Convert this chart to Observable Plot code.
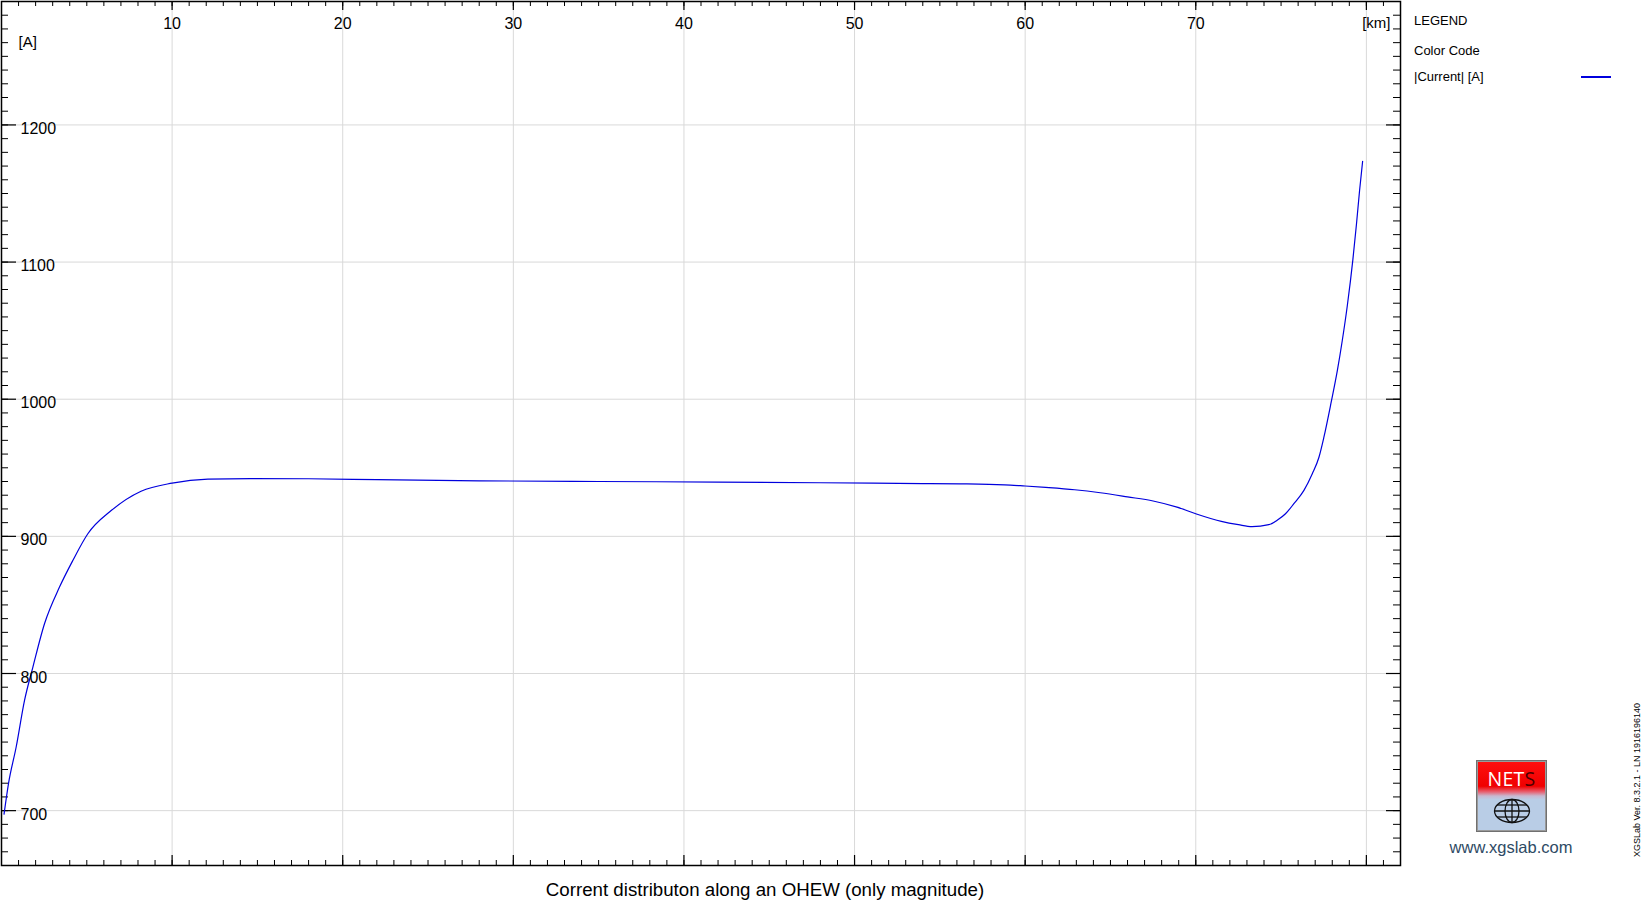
<!DOCTYPE html>
<html>
<head>
<meta charset="utf-8">
<script src="https://cdn.jsdelivr.net/npm/d3@7"></script>
<script src="https://cdn.jsdelivr.net/npm/@observablehq/plot@0.6"></script>
<style>
  html, body { margin: 0; padding: 0; background: #fff; }
  body { width: 1651px; height: 916px; position: relative; overflow: hidden; font-family: "Liberation Sans", Arial, sans-serif; color: #000; }
  #chart { position: absolute; left: 0; top: 0; }
  .abs { position: absolute; white-space: nowrap; }
</style>
</head>
<body>
<div id="chart"></div>
<div class="abs" id="title" style="left:0; width:1530px; top:879px; text-align:center; font-size:18.7px; line-height:22px;"></div>
<div class="abs" id="leg-head" style="left:1414px; top:13px; font-size:13px; line-height:16px;"></div>
<div class="abs" id="leg-sub" style="left:1414px; top:43px; font-size:13px; line-height:16px;"></div>
<div class="abs" id="leg-item" style="left:1414px; top:69px; font-size:13px; line-height:16px;"></div>
<div class="abs" id="leg-swatch" style="left:1581px; top:76px; width:30px; height:2px;"></div>

<div class="abs" id="logo" style="left:1476px; top:760px; width:69px; height:70px; border:1px solid #707070; box-shadow: inset 0 0 0 1px #9a9a9a; background: linear-gradient(to bottom, #ff1010 0%, #f00000 36%, #e86070 44%, #c8b8d0 50%, #b9cde6 55%, #b9cde6 100%);">
  <div style="position:absolute; left:0; width:69px; top:5px; text-align:center; font-family:'Open Sans','Liberation Sans',sans-serif; font-size:19.5px; line-height:26px; color:#fff; letter-spacing:0.3px;">NET<span style="color:#4a0000">S</span></div>
  <svg style="position:absolute; left:0; top:34px;" width="69" height="36">
    <g fill="none" stroke="#111" stroke-width="1.3">
      <ellipse cx="35" cy="16" rx="17.5" ry="11.5"/>
      <ellipse cx="35" cy="16" rx="7" ry="11.5"/>
      <line x1="35" y1="4.5" x2="35" y2="27.5"/>
      <line x1="17.5" y1="16" x2="52.5" y2="16"/>
      <line x1="20" y1="10" x2="50" y2="10"/>
      <line x1="20" y1="22" x2="50" y2="22"/>
    </g>
  </svg>
</div>
<div class="abs" id="site" style="left:1411px; width:200px; top:836px; text-align:center; font-size:16.5px; line-height:22px; color:#2e4a64;"></div>
<svg class="abs" style="left:1628px; top:690px;" width="20" height="180">
  <text id="ver" transform="translate(10,90) rotate(-90)" text-anchor="middle" dominant-baseline="middle" font-family="Liberation Sans, Arial, sans-serif" font-size="9"></text>
</svg>

<script>
// ---- data ----
const distKm = [0.15, 0.41, 0.86, 1.35, 1.84, 2.52, 3.40, 4.18, 5.06, 6.43, 8.18, 10.0, 12.1, 14.6, 18, 22, 28, 35, 42, 48, 54, 56.2, 58.8, 60.0, 61.2, 62.9, 64.4, 66.0, 67.5, 68.9, 70.0, 71.5, 72.5, 73.3, 74.28, 74.81, 75.26, 75.75, 76.34, 76.83, 77.22, 77.51, 77.94, 78.30, 78.59, 78.88, 79.21, 79.42, 79.60, 79.78];
const currentA = [697.5, 719.7, 746.4, 780.4, 804.7, 836.3, 863.0, 882.4, 901.9, 918.8, 932.9, 938.8, 941.7, 942.1, 942.0, 941.3, 940.5, 940.0, 939.6, 939.1, 938.5, 938.3, 937.6, 936.7, 935.7, 934.0, 931.8, 928.8, 925.8, 921.3, 916.5, 910.9, 908.5, 907.1, 908.5, 912.1, 916.5, 923.8, 933.5, 945.6, 957.7, 972.3, 998.0, 1021.0, 1043.0, 1068.0, 1102.0, 1127.8, 1152.0, 1173.5];

const xTickValues = [10, 20, 30, 40, 50, 60, 70];
const xTickLabels = ["10", "20", "30", "40", "50", "60", "70"];
const yTickValues = [700, 800, 900, 1000, 1100, 1200];
const yTickLabels = ["700", "800", "900", "1000", "1100", "1200"];
const xGrid = [10, 20, 30, 40, 50, 60, 70, 80];
const yGrid = [700, 800, 900, 1000, 1100, 1200];
const xUnitLabel = "[km]";
const xUnitAt = 80;
const yUnitLabel = "[A]";
const xDomain = [0, 82];
const yDomain = [660, 1290];

const titleText = "Corrent distributon along an OHEW (only magnitude)";
const legendHead = "LEGEND";
const legendSub = "Color Code";
const seriesName = "|Current| [A]";
const seriesColor = "#0000dd";
const siteText = "www.xgslab.com";
const versionText = "XGSLab Ver. 8.3.2.1 - LN 1916196140";

// ---- build ----
const data = distKm.map((km, i) => ({km, amp: currentA[i]}));
const xMinor = d3.range(1, 82);          // 1 km minor ticks
const yMinor = d3.range(670, 1290, 10);  // 10 A minor ticks

const W = 1402, H = 867;
const mL = 1, mT = 1, mR = 2, mB = 2;
const pw = W - mL - mR, ph = H - mT - mB;

const fontFam = "Liberation Sans, Arial, sans-serif";

const chart = Plot.plot({
  width: W,
  height: H,
  marginLeft: mL, marginTop: mT, marginRight: mR, marginBottom: mB,
  style: {background: "white", fontFamily: fontFam, overflow: "visible"},
  x: {domain: xDomain, axis: null},
  y: {domain: yDomain, axis: null},
  marks: [
    Plot.ruleX(xGrid, {x: d => d, stroke: "#d9d9d9", strokeWidth: 1}),
    Plot.ruleY(yGrid, {y: d => d, stroke: "#d9d9d9", strokeWidth: 1}),
    // top ticks
    Plot.tickX(xMinor, {x: d => d, insetBottom: ph - 5, stroke: "black", strokeWidth: 1}),
    Plot.tickX(xTickValues.concat([80]), {x: d => d, insetBottom: ph - 9, stroke: "black", strokeWidth: 1.2}),
    // bottom ticks
    Plot.tickX(xMinor, {x: d => d, insetTop: ph - 5, stroke: "black", strokeWidth: 1}),
    Plot.tickX(xTickValues.concat([80]), {x: d => d, insetTop: ph - 10, stroke: "black", strokeWidth: 1.2}),
    // left ticks
    Plot.tickY(yMinor, {y: d => d, insetRight: pw - 7, stroke: "black", strokeWidth: 1}),
    Plot.tickY(yTickValues, {y: d => d, insetRight: pw - 15, stroke: "black", strokeWidth: 1.2}),
    // right ticks
    Plot.tickY(yMinor, {y: d => d, insetLeft: pw - 7, stroke: "black", strokeWidth: 1}),
    Plot.tickY(yTickValues, {y: d => d, insetLeft: pw - 14, stroke: "black", strokeWidth: 1.2}),
    // curve
    Plot.line(data, {x: "km", y: "amp", stroke: seriesColor, strokeWidth: 1.2, curve: "monotone-x"}),
    // tick labels
    Plot.text(xTickValues, {x: d => d, text: (d, i) => xTickLabels[i], frameAnchor: "top", lineAnchor: "middle", dy: 22, fontSize: 16, fill: "black"}),
    Plot.text(yTickValues, {y: d => d, text: (d, i) => yTickLabels[i], frameAnchor: "left", lineAnchor: "middle", textAnchor: "start", dx: 19, dy: 4, fontSize: 16, fill: "black"}),
    Plot.text([xUnitAt], {x: d => d, text: () => xUnitLabel, frameAnchor: "top", lineAnchor: "middle", dy: 22, dx: 10, fontSize: 15, fill: "black"}),
    Plot.text([yUnitLabel], {text: d => d, frameAnchor: "top-left", lineAnchor: "middle", textAnchor: "start", dx: 17, dy: 41, fontSize: 15, fill: "black"}),
    Plot.frame({stroke: "black", strokeWidth: 1.5})
  ]
});
document.getElementById("chart").appendChild(chart);

document.getElementById("title").textContent = titleText;
document.getElementById("leg-head").textContent = legendHead;
document.getElementById("leg-sub").textContent = legendSub;
document.getElementById("leg-item").textContent = seriesName;
document.getElementById("leg-swatch").style.background = seriesColor;
document.getElementById("site").textContent = siteText;
document.getElementById("ver").textContent = versionText;
</script>
</body>
</html>
